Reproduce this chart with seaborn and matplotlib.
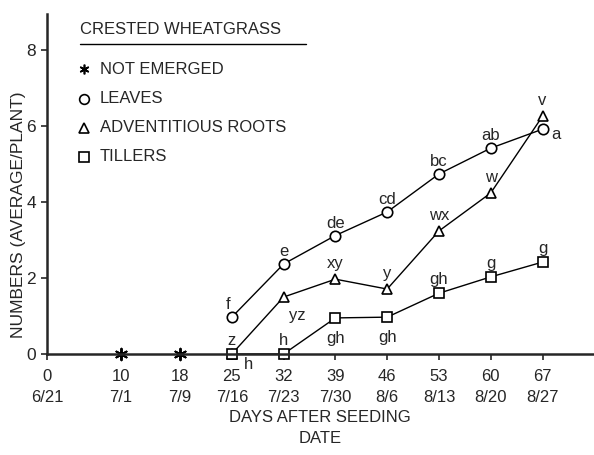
import matplotlib
matplotlib.use("Agg")
import matplotlib.pyplot as plt
import seaborn as sns
import pandas as pd

# ---- data ----
days = [25, 32, 39, 46, 53, 60, 67]
leaves = [0.97, 2.37, 3.12, 3.74, 4.74, 5.42, 5.92]
roots = [0.0, 1.50, 1.97, 1.71, 3.24, 4.24, 6.26]
tillers = [0.0, 0.0, 0.95, 0.97, 1.60, 2.03, 2.42]
not_emerged_days = [10, 18]
not_emerged_vals = [0, 0]
leaf_letters = ["f", "e", "de", "cd", "bc", "ab", "a"]
root_letters = ["z", "yz", "xy", "y", "wx", "w", "v"]
tiller_letters = ["h", "h", "gh", "gh", "gh", "g", "g"]
tick_days = [0, 10, 18, 25, 32, 39, 46, 53, 60, 67]
tick_dates = ["6/21", "7/1", "7/9", "7/16", "7/23", "7/30", "8/6", "8/13", "8/20", "8/27"]
y_ticks = [0, 2, 4, 6, 8]

sns.set_style("ticks")
plt.rcParams["font.family"] = ["Liberation Sans", "DejaVu Sans"]

df = pd.DataFrame({"day": days, "leaves": leaves, "roots": roots, "tillers": tillers})

fig = plt.figure(figsize=(5.94, 4.55), dpi=100)
ax = fig.add_axes([0.079, 0.222, 0.919, 0.747])

line_kw = dict(color="black", linewidth=1.0, markerfacecolor="white",
               markeredgecolor="black", markeredgewidth=1.2, markersize=7.5)
sns.lineplot(data=df, x="day", y="leaves", marker="o", ax=ax, **line_kw)
sns.lineplot(data=df, x="day", y="roots", marker="^", ax=ax, **line_kw)
sns.lineplot(data=df, x="day", y="tillers", marker="s", ax=ax, **line_kw)
sns.scatterplot(x=not_emerged_days, y=not_emerged_vals, marker=(6, 2, 0), s=70,
                color="black", linewidth=1.4, ax=ax, clip_on=False)
for l in ax.lines:
    l.set_clip_on(False)
for c in ax.collections:
    c.set_clip_on(False)

# letter annotations (offsets in points)
fs = 12
leaf_off = [(-3, 9), (0, 9), (0, 9), (0, 9), (0, 9), (0, 9), (10, -4)]
root_off = [(0, 10), (10, -13), (0, 11), (0, 11), (0, 11), (0, 11), (0, 11)]
till_off = [(12, -7.5), (0, 10), (0, -15), (0, -15), (0, 10), (0, 10), (0, 10)]
for d, v, t, o in zip(days, leaves, leaf_letters, leaf_off):
    ax.annotate(t, (d, v), xytext=o, textcoords="offset points", ha="center",
                va="center", fontsize=fs)
for d, v, t, o in zip(days, roots, root_letters, root_off):
    ax.annotate(t, (d, v), xytext=o, textcoords="offset points", ha="center",
                va="center", fontsize=fs)
for d, v, t, o in zip(days, tillers, tiller_letters, till_off):
    ax.annotate(t, (d, v), xytext=o, textcoords="offset points", ha="center",
                va="center", fontsize=fs)

ax.set_xlim(0, 73.8)
ax.set_ylim(0, 8.95)
ax.set_xticks(tick_days)
ax.set_xticklabels([f"{d}\n{t}" for d, t in zip(tick_days, tick_dates)],
                   fontsize=12, linespacing=1.45)
ax.set_yticks(y_ticks)
ax.set_yticklabels([str(v) for v in y_ticks], fontsize=12.5)
ax.tick_params(axis="x", direction="out", length=4, width=1.2, pad=7)
ax.tick_params(axis="y", direction="out", length=4, width=1.2, pad=4)
for s in ["top", "right"]:
    ax.spines[s].set_visible(False)
for s in ["left", "bottom"]:
    ax.spines[s].set_linewidth(1.8)
ax.set_xlabel("DAYS AFTER SEEDING\nDATE", fontsize=12, linespacing=1.5, labelpad=4)
ax.set_ylabel("NUMBERS (AVERAGE/PLANT)", fontsize=12.5)
ax.yaxis.set_label_coords(-0.038, 0.41)

# legend drawn manually
fig.text(0.135, 0.935, "CRESTED WHEATGRASS", fontsize=12, va="center")
fig.add_artist(plt.Line2D([0.135, 0.515], [0.904, 0.904], color="black", linewidth=1.0,
                          transform=fig.transFigure))
leg_items = [((6, 2, 0), "NOT EMERGED", "black"), ("o", "LEAVES", "white"),
             ("^", "ADVENTITIOUS ROOTS", "white"), ("s", "TILLERS", "white")]
ys = [0.848, 0.783, 0.719, 0.655]
for (m, lab, fc), yy in zip(leg_items, ys):
    fig.add_artist(plt.Line2D([0.141], [yy], marker=m, markersize=7, markerfacecolor=fc,
                              markeredgecolor="black", markeredgewidth=1.2, linestyle="none",
                              transform=fig.transFigure))
    fig.text(0.168, yy, lab, fontsize=12, va="center")

fig.savefig("out.png", dpi=100)
